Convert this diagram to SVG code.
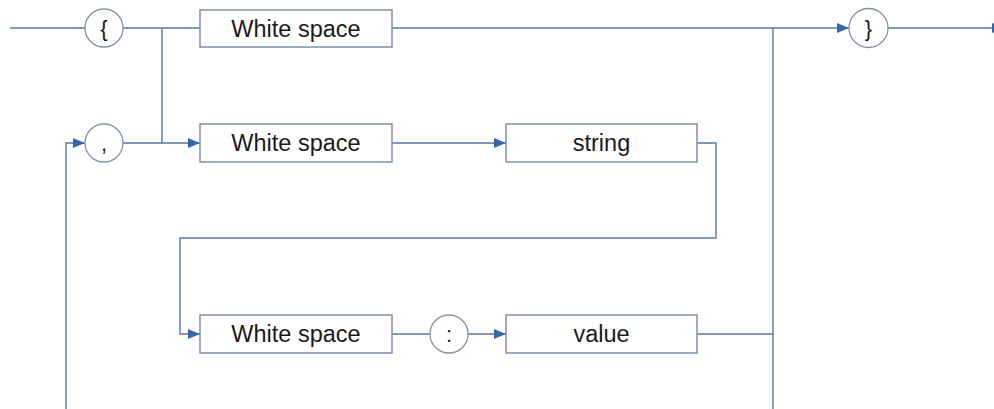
<svg xmlns="http://www.w3.org/2000/svg" width="994" height="409" viewBox="0 0 994 409">
  <style>
    .box { fill: #ffffff; stroke: #7d8eab; stroke-width: 1.5; }
    .term { fill: #ffffff; stroke: #8593aa; stroke-width: 1.3; }
    .label { font-family: "Liberation Sans", Arial, sans-serif; font-size: 23.5px; fill: #1a1a1a; text-anchor: middle; }
    .sym { font-family: "Liberation Sans", Arial, sans-serif; font-size: 22px; fill: #1a1a1a; text-anchor: middle; }
    .wire { fill: none; stroke: #5676a3; stroke-width: 1.4; }
    .arrow { fill: none; stroke: #5676a3; stroke-width: 1.4; marker-end: url(#head); }
  </style>
  <defs>
    <marker id="head" markerWidth="12" markerHeight="10" refX="12" refY="5" orient="auto" markerUnits="userSpaceOnUse">
      <path d="M0,0 L12,5 L0,10 Z" fill="#3a66a4"/>
    </marker>
  </defs>
  <rect width="994" height="409" fill="#ffffff"/>

  <!-- connectors -->
  <g id="connectors">
    <!-- entry into the opening brace -->
    <path class="wire" d="M10,28 H85"/>
    <!-- opening brace to first white space, with branch down -->
    <path class="wire" d="M123,28 H200"/>
    <path class="wire" d="M162,28 V143"/>
    <!-- first white space straight on to closing brace -->
    <path class="arrow" d="M392,28 H849"/>
    <!-- exit -->
    <path class="arrow" d="M888,28 H1004"/>
    <!-- comma to member white space -->
    <path class="arrow" d="M123,143 H200"/>
    <!-- white space to string -->
    <path class="arrow" d="M392,143 H506"/>
    <!-- string wraps round to the second white space -->
    <path class="arrow" d="M697,143 H716 V238 H180 V334 H200"/>
    <!-- white space to colon -->
    <path class="wire" d="M392,334 H430"/>
    <!-- colon to value -->
    <path class="arrow" d="M468,334 H506"/>
    <!-- value joins the right-hand bus -->
    <path class="wire" d="M697,334 H773"/>
    <path class="wire" d="M773,28 V409"/>
    <!-- loop back to the comma -->
    <path class="arrow" d="M66,409 V143 H85"/>
  </g>

  <g id="open-brace">
    <circle class="term" cx="104" cy="28" r="19"/>
    <text class="sym" x="104" y="36">{</text>
  </g>

  <g id="ws-1">
    <rect class="box" x="200" y="10" width="192" height="37"/>
    <text class="label" x="296" y="37">White space</text>
  </g>

  <g id="close-brace">
    <circle class="term" cx="868.500" cy="28" r="19.500"/>
    <text class="sym" x="868.500" y="36">}</text>
  </g>

  <g id="comma">
    <circle class="term" cx="104" cy="143" r="19"/>
    <text class="sym" x="104" y="151">,</text>
  </g>

  <g id="ws-2">
    <rect class="box" x="200" y="124" width="192" height="38"/>
    <text class="label" x="296" y="151">White space</text>
  </g>

  <g id="string">
    <rect class="box" x="506" y="124" width="191" height="38"/>
    <text class="label" x="601.500" y="151">string</text>
  </g>

  <g id="ws-3">
    <rect class="box" x="200" y="315" width="192" height="38"/>
    <text class="label" x="296" y="342">White space</text>
  </g>

  <g id="colon">
    <circle class="term" cx="449" cy="334" r="19"/>
    <text class="sym" x="449" y="342">:</text>
  </g>

  <g id="value">
    <rect class="box" x="506" y="315" width="191" height="38"/>
    <text class="label" x="601.500" y="342">value</text>
  </g>
</svg>
